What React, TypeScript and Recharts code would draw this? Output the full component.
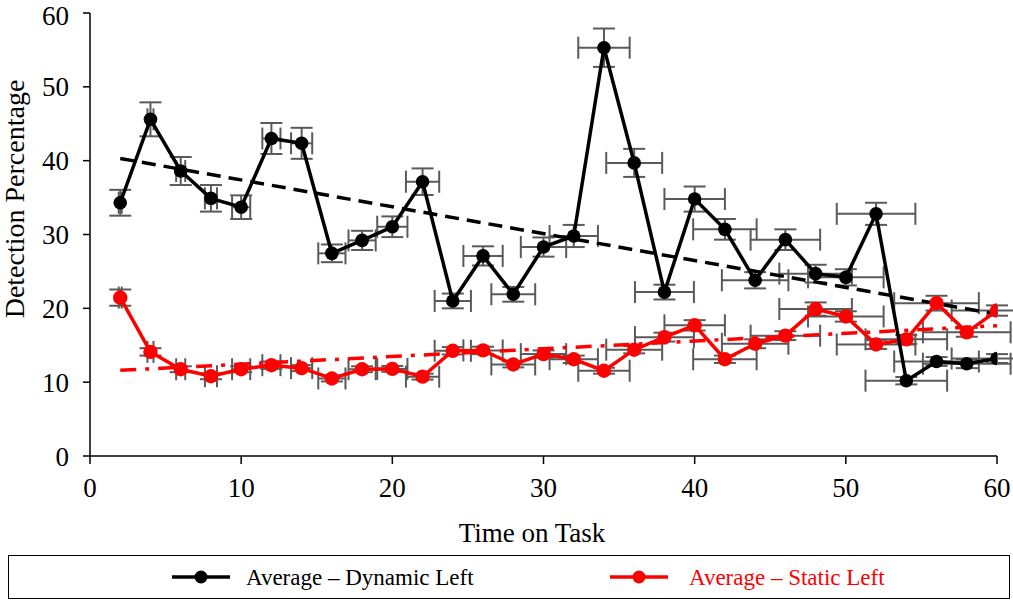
import React from 'react';
import { ComposedChart, Scatter, XAxis, YAxis, ErrorBar, Label } from 'recharts';

const FONT = "'Liberation Serif', 'Times New Roman', serif";

const timePoints = [2, 4, 6, 8, 10, 12, 14, 16, 18, 20, 22, 24, 26, 28, 30, 32, 34, 36, 38, 40, 42, 44, 46, 48, 50, 52, 54, 56, 58, 60];

const dynamicLeft = [34.3, 45.6, 38.6, 34.9, 33.7, 43.0, 42.35, 27.45, 29.2, 31.05, 37.15, 21.0, 27.1, 21.9, 28.3, 29.8, 55.3, 39.7, 22.2, 34.8, 30.7, 23.8, 29.3, 24.7, 24.2, 32.8, 10.2, 12.8, 12.5, 13.2];
const dynamicLeftErrY = [1.75, 2.3, 1.9, 1.8, 1.6, 2.1, 2.1, 1.2, 1.3, 1.4, 1.8, 1.0, 1.3, 1.0, 1.3, 1.5, 2.6, 1.9, 1.0, 1.7, 1.4, 1.1, 1.4, 1.2, 1.1, 1.5, 0.5, 0.6, 0.6, 0.6];
const dynamicLeftErrX = [0.1, 0.2, 0.3, 0.4, 0.6, 0.6, 0.7, 0.9, 0.9, 1.0, 1.1, 1.2, 1.3, 1.45, 1.5, 1.6, 1.7, 1.85, 1.95, 2.0, 2.1, 2.2, 2.3, 2.4, 2.5, 2.6, 2.7, 2.8, 2.9, 3.0];

const staticLeft = [21.45, 14.1, 11.75, 10.8, 11.75, 12.3, 11.9, 10.5, 11.75, 11.8, 10.75, 14.25, 14.3, 12.4, 13.8, 13.1, 11.55, 14.4, 16.1, 17.7, 13.1, 15.2, 16.3, 19.9, 18.9, 15.1, 15.8, 20.7, 16.75, 19.7];
const staticLeftErrY = [1.1, 0.5, 0.4, 0.4, 0.4, 0.5, 0.4, 0.4, 0.4, 0.4, 0.4, 0.5, 0.5, 0.4, 0.5, 0.5, 0.4, 0.5, 0.6, 0.7, 0.5, 0.6, 0.6, 0.9, 0.7, 0.6, 0.6, 1.0, 0.6, 0.7];
const staticLeftErrX = [0.1, 0.2, 0.3, 0.4, 0.6, 0.6, 0.7, 0.9, 0.9, 1.0, 1.1, 1.2, 1.3, 1.45, 1.5, 1.6, 1.7, 1.85, 1.95, 2.0, 2.1, 2.2, 2.3, 2.4, 2.5, 2.6, 2.7, 2.8, 2.9, 3.0];

const dynamicTrendX = [2, 60];
const dynamicTrendY = [40.3, 19.2];
const staticTrendX = [2, 60];
const staticTrendY = [11.6, 17.65];

const xTicks = [0, 10, 20, 30, 40, 50, 60];
const yTicks = [0, 10, 20, 30, 40, 50, 60];

const dynamicData = timePoints.map((t, i) => ({ x: t, y: dynamicLeft[i], ex: dynamicLeftErrX[i], ey: dynamicLeftErrY[i] }));
const staticData = timePoints.map((t, i) => ({ x: t, y: staticLeft[i], ex: staticLeftErrX[i], ey: staticLeftErrY[i] }));
const dynamicTrend = dynamicTrendX.map((x, i) => ({ x, y: dynamicTrendY[i] }));
const staticTrend = staticTrendX.map((x, i) => ({ x, y: staticTrendY[i] }));

const ERR = '#5a5a5a';

const blackDot = (p: any) => <circle cx={p.cx} cy={p.cy} r={6.8} fill="#000" />;
const redDot = (p: any) => <circle cx={p.cx} cy={p.cy} r={7.2} fill="#ff0000" />;
const noDot = () => <g />;

export default function App() {
  return (
    <div style={{ position: 'absolute', left: 0, top: 0, width: 1013, height: 603, background: '#fff' }}>
      <ComposedChart width={1013} height={550} margin={{ top: 13, right: 16, left: 0, bottom: 0 }}>
        <XAxis
          type="number"
          dataKey="x"
          domain={[0, 60]}
          ticks={xTicks}
          allowDataOverflow
          height={94}
          tickSize={8}
          tickMargin={14}
          axisLine={{ stroke: '#000', strokeWidth: 1.5 }}
          tickLine={{ stroke: '#000', strokeWidth: 1.5 }}
          tick={{ fill: '#000', fontSize: 27, fontFamily: FONT }}
        >
          <Label
            content={() => (
              <text x={532} y={542} textAnchor="middle" fontSize={27} fontFamily={FONT} fill="#000">
                Time on Task
              </text>
            )}
          />
        </XAxis>
        <YAxis
          type="number"
          dataKey="y"
          domain={[0, 60]}
          ticks={yTicks}
          width={90}
          tickSize={7}
          tickMargin={14}
          axisLine={{ stroke: '#000', strokeWidth: 1.5 }}
          tickLine={{ stroke: '#000', strokeWidth: 1.5 }}
          tick={{ fill: '#000', fontSize: 27, fontFamily: FONT }}
        >
          <Label
            content={() => (
              <text transform="translate(24,199) rotate(-90)" textAnchor="middle" fontSize={28} fontFamily={FONT} fill="#000">
                Detection Percentage
              </text>
            )}
          />
        </YAxis>
        {/* error bars first, underneath lines and markers */}
        <Scatter name="static-err" data={staticData} dataKey="y" shape={noDot} isAnimationActive={false} legendType="none">
          <ErrorBar dataKey="ey" direction="y" width={11} stroke={ERR} strokeWidth={2} isAnimationActive={false} />
          <ErrorBar dataKey="ex" direction="x" width={11} stroke={ERR} strokeWidth={2} isAnimationActive={false} />
        </Scatter>
        <Scatter name="dynamic-err" data={dynamicData} dataKey="y" shape={noDot} isAnimationActive={false} legendType="none">
          <ErrorBar dataKey="ey" direction="y" width={11} stroke={ERR} strokeWidth={2} isAnimationActive={false} />
          <ErrorBar dataKey="ex" direction="x" width={11} stroke={ERR} strokeWidth={2} isAnimationActive={false} />
        </Scatter>
        {/* linear trend lines */}
        <Scatter
          name="static-trend"
          data={staticTrend}
          dataKey="y"
          line={{ stroke: '#ff0000', strokeWidth: 3.5, strokeDasharray: '16 9 4 9' }}
          lineType="joint"
          shape={noDot}
          isAnimationActive={false}
          legendType="none"
        />
        <Scatter
          name="dynamic-trend"
          data={dynamicTrend}
          dataKey="y"
          line={{ stroke: '#000', strokeWidth: 3.5, strokeDasharray: '14 8' }}
          lineType="joint"
          shape={noDot}
          isAnimationActive={false}
          legendType="none"
        />
        <Scatter
          name="Average – Static Left"
          data={staticData}
          dataKey="y"
          line={{ stroke: '#ff0000', strokeWidth: 3.5 }}
          lineType="joint"
          shape={redDot}
          isAnimationActive={false}
        />
        <Scatter
          name="Average – Dynamic Left"
          data={dynamicData}
          dataKey="y"
          line={{ stroke: '#000', strokeWidth: 3.5 }}
          lineType="joint"
          shape={blackDot}
          isAnimationActive={false}
        />
      </ComposedChart>
      <div
        style={{
          position: 'absolute',
          left: 8,
          top: 555,
          width: 1000,
          height: 42,
          border: '1.5px solid #000',
          boxSizing: 'content-box',
        }}
      >
        <svg width={1000} height={42} style={{ display: 'block' }}>
          <line x1={163} y1={21} x2={221} y2={21} stroke="#000" strokeWidth={3.5} />
          <circle cx={192} cy={21} r={6.5} fill="#000" />
          <text x={237} y={29} fontSize={23} fontFamily={FONT} fill="#000">Average – Dynamic Left</text>
          <line x1={601} y1={21} x2={659} y2={21} stroke="#ff0000" strokeWidth={3.5} />
          <circle cx={630} cy={21} r={6.5} fill="#ff0000" />
          <text x={680} y={29} fontSize={23} fontFamily={FONT} fill="#ff0000">Average – Static Left</text>
        </svg>
      </div>
    </div>
  );
}
